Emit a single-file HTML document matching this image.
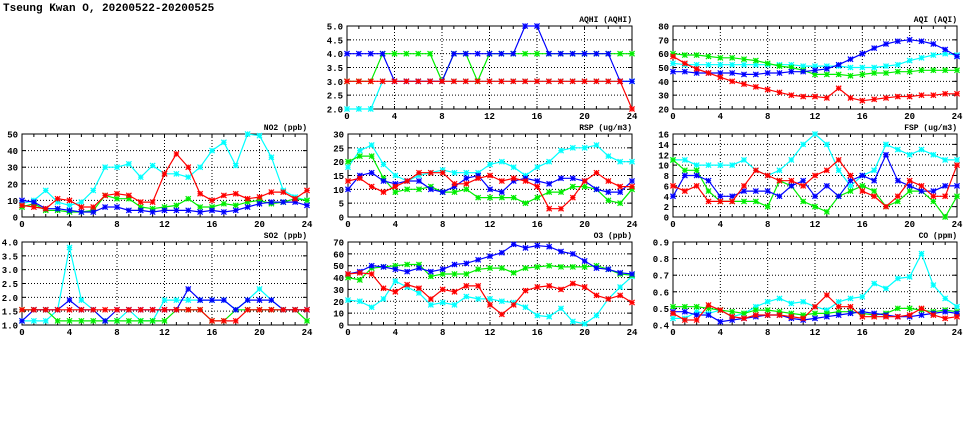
<!DOCTYPE html>
<html><head><meta charset="utf-8"><style>
html,body{margin:0;padding:0;background:#fff;}
svg{display:block;}
text{font-family:"Liberation Mono",monospace;font-weight:bold;fill:#000;}
</style></head><body>
<svg id="chart" width="975" height="447" viewBox="0 0 975 447" xmlns="http://www.w3.org/2000/svg">
<text x="3" y="11" font-size="11">Tseung Kwan O, 20200522-20200525</text>
</svg>
<script>
const hours = [0,1,2,3,4,5,6,7,8,9,10,11,12,13,14,15,16,17,18,19,20,21,22,23,24];
const xTicks = [0,4,8,12,16,20,24];
const seriesColors = ["#00ffff","#00ee00","#0000ff","#ff0000"];

const aqhiCyan  = [2,2,2,3,3,3,3,3,3,3,3,3,3,3,3,3,3,3,3,3,3,3,3,3,3];
const aqhiGreen = [3,3,3,4,4,4,4,4,3,4,4,3,4,4,4,4,4,4,4,4,4,4,4,4,4];
const aqhiBlue  = [4,4,4,4,3,3,3,3,3,4,4,4,4,4,4,5,5,4,4,4,4,4,4,3,3];
const aqhiRed   = [3,3,3,3,3,3,3,3,3,3,3,3,3,3,3,3,3,3,3,3,3,3,3,3,2];

const aqiCyan  = [53,52,52,52,52,52,52,52,52,52,52,51,51,51,51,50,50,50,51,52,55,57,59,60,59];
const aqiGreen = [60,59,59,58,57,57,56,55,53,51,50,48,45,45,45,44,45,46,46,47,47,48,48,48,48];
const aqiBlue  = [47,47,46,46,46,46,45,45,46,46,47,47,48,49,52,56,60,64,67,69,70,69,67,63,58];
const aqiRed   = [58,53,49,46,43,40,38,36,34,32,30,29,29,28,35,28,26,27,28,29,29,30,30,31,31];

const no2Cyan  = [8,10,16,9,7,9,16,30,30,32,24,31,26,26,24,30,40,45,31,50,49,36,16,12,10];
const no2Green = [6,8,4,4,3,3,4,13,11,11,6,5,6,7,11,6,6,8,7,9,10,8,9,11,10];
const no2Blue  = [10,9,5,5,4,3,3,6,6,4,4,3,4,4,4,3,4,3,4,6,8,9,9,9,7];
const no2Red   = [7,6,5,11,10,6,6,13,14,13,9,9,26,38,30,14,10,13,14,11,12,15,15,11,16];

const rspCyan  = [18,24,26,19,15,13,15,16,17,16,16,16,19,20,18,15,18,20,24,25,25,26,22,20,20];
const rspGreen = [20,22,22,14,9,10,10,11,9,9,10,7,7,7,7,5,7,9,9,11,11,10,6,5,10];
const rspBlue  = [10,15,16,13,12,13,13,10,9,11,14,15,10,9,13,14,13,12,14,14,13,10,9,9,13];
const rspRed   = [13,14,11,9,11,13,16,16,16,12,12,14,15,13,14,13,11,3,3,7,13,16,13,11,11];

const fspCyan  = [11,11,10,10,10,10,11,9,8,9,11,14,16,14,9,6,8,9,14,13,12,13,12,11,11];
const fspGreen = [11,9,9,5,3,3,3,3,2,7,6,3,2,1,4,5,6,5,2,3,5,5,3,0,4];
const fspBlue  = [4,8,8,7,4,4,5,5,5,4,6,7,4,6,4,7,8,7,12,7,6,5,5,6,6];
const fspRed   = [6,5,6,3,3,3,6,9,8,7,7,6,8,9,11,8,5,4,2,4,7,6,4,4,10];

const so2Cyan  = [1.15,1.15,1.15,1.55,3.8,1.9,1.55,1.15,1.15,1.55,1.15,1.15,1.9,1.9,1.9,1.9,1.9,1.9,1.55,1.9,2.3,1.9,1.55,1.55,1.55];
const so2Green = [1.55,1.55,1.55,1.15,1.15,1.15,1.15,1.15,1.15,1.15,1.15,1.15,1.15,1.55,1.55,1.55,1.15,1.15,1.55,1.55,1.55,1.55,1.55,1.55,1.15];
const so2Blue  = [1.15,1.55,1.55,1.55,1.9,1.55,1.55,1.15,1.55,1.55,1.55,1.55,1.55,1.55,2.3,1.9,1.9,1.9,1.55,1.9,1.9,1.9,1.55,1.55,1.55];
const so2Red   = [1.55,1.55,1.55,1.55,1.55,1.55,1.55,1.55,1.55,1.55,1.55,1.55,1.55,1.55,1.55,1.55,1.15,1.15,1.15,1.55,1.55,1.55,1.55,1.55,1.55];

const o3Cyan  = [21,20,15,22,37,32,27,17,19,17,24,22,22,20,19,15,8,7,14,3,1,8,22,32,41];
const o3Green = [40,38,48,49,50,51,51,41,43,43,43,47,48,48,44,48,49,50,49,49,49,50,47,43,42];
const o3Blue  = [43,45,50,49,47,45,48,45,47,51,52,55,58,61,68,65,67,66,62,60,54,48,47,44,43];
const o3Red   = [43,44,43,31,28,34,31,22,30,28,33,33,17,9,17,29,32,33,30,35,32,25,22,25,19];

const coCyan  = [0.44,0.44,0.48,0.47,0.49,0.45,0.47,0.51,0.54,0.56,0.53,0.54,0.51,0.49,0.54,0.56,0.57,0.65,0.62,0.68,0.69,0.83,0.64,0.56,0.51];
const coGreen = [0.51,0.51,0.51,0.50,0.49,0.48,0.47,0.49,0.49,0.48,0.47,0.46,0.47,0.47,0.48,0.48,0.47,0.46,0.47,0.50,0.50,0.49,0.48,0.49,0.48];
const coBlue  = [0.48,0.48,0.46,0.46,0.42,0.43,0.44,0.45,0.46,0.46,0.44,0.43,0.44,0.45,0.46,0.47,0.48,0.47,0.46,0.45,0.45,0.46,0.47,0.48,0.47];
const coRed   = [0.47,0.43,0.43,0.52,0.49,0.45,0.44,0.46,0.46,0.46,0.45,0.44,0.51,0.58,0.51,0.51,0.45,0.45,0.45,0.45,0.46,0.50,0.46,0.44,0.45];

const aqhiTicks = ["2.0","2.5","3.0","3.5","4.0","4.5","5.0"];
const aqiTicks = ["20","30","40","50","60","70","80"];
const no2Ticks = ["0","10","20","30","40","50"];
const rspTicks = ["0","5","10","15","20","25","30"];
const fspTicks = ["0","2","4","6","8","10","12","14","16"];
const so2Ticks = ["1.0","1.5","2.0","2.5","3.0","3.5","4.0"];
const o3Ticks = ["0","10","20","30","40","50","60","70"];
const coTicks = ["0.4","0.5","0.6","0.7","0.8","0.9"];

const panels = [
 {name:"aqhi",title:"AQHI (AQHI)",L:347,R:632,T:26,B:109,ticks:aqhiTicks,series:[aqhiCyan,aqhiGreen,aqhiBlue,aqhiRed]},
 {name:"aqi",title:"AQI (AQI)",L:673,R:957,T:26,B:109,ticks:aqiTicks,series:[aqiCyan,aqiGreen,aqiBlue,aqiRed]},
 {name:"no2",title:"NO2 (ppb)",L:22,R:307,T:134,B:217,ticks:no2Ticks,series:[no2Cyan,no2Green,no2Blue,no2Red]},
 {name:"rsp",title:"RSP (ug/m3)",L:348,R:632,T:134,B:217,ticks:rspTicks,series:[rspCyan,rspGreen,rspBlue,rspRed]},
 {name:"fsp",title:"FSP (ug/m3)",L:673,R:957,T:134,B:217,ticks:fspTicks,series:[fspCyan,fspGreen,fspBlue,fspRed]},
 {name:"so2",title:"SO2 (ppb)",L:22,R:307,T:242,B:325,ticks:so2Ticks,series:[so2Cyan,so2Green,so2Blue,so2Red]},
 {name:"o3",title:"O3 (ppb)",L:348,R:632,T:242,B:325,ticks:o3Ticks,series:[o3Cyan,o3Green,o3Blue,o3Red]},
 {name:"co",title:"CO (ppm)",L:673,R:957,T:242,B:325,ticks:coTicks,series:[coCyan,coGreen,coBlue,coRed]}
];
const seriesNames = ["cyan","green","blue","red"];

const svg = document.getElementById("chart");
const NS = "http://www.w3.org/2000/svg";
function mk(tag, attrs, parent){
  const e = document.createElementNS(NS, tag);
  for (const k in attrs) e.setAttribute(k, attrs[k]);
  parent.appendChild(e);
  return e;
}

panels.forEach(p => {
  const g = mk("g", {}, svg);
  
  
  const yMin = parseFloat(p.ticks[0]), yMax = parseFloat(p.ticks[p.ticks.length-1]);
  const xS = v => p.L + (v - 0) / 24 * (p.R - p.L);
  const yS = v => p.B - (v - yMin) / (yMax - yMin) * (p.B - p.T);

  // grid
  p.ticks.forEach((t, i) => {
    const y = yS(parseFloat(t));
    if (i > 0 && i < p.ticks.length - 1) {
      const gl = mk("line", {x1:p.L, x2:p.R, y1:y, y2:y, stroke:"#000", "stroke-width":1, "stroke-dasharray":"1,2"}, g);
      
      
    }
    mk("line", {x1:p.L, x2:p.L+4, y1:y, y2:y, stroke:"#000"}, g);
    mk("line", {x1:p.R-4, x2:p.R, y1:y, y2:y, stroke:"#000"}, g);
    const tl = mk("text", {x:p.L-4, y:y+3.5, "font-size":9, "text-anchor":"end"}, g);
    tl.textContent = t;
    
    
  });
  xTicks.forEach((t, i) => {
    const x = xS(t);
    if (i > 0 && i < xTicks.length - 1) {
      const gl = mk("line", {x1:x, x2:x, y1:p.T, y2:p.B, stroke:"#000", "stroke-width":1, "stroke-dasharray":"1,2"}, g);
      
      
    }
    const tl = mk("text", {x:x, y:p.B+10, "font-size":9, "text-anchor":"middle"}, g);
    tl.textContent = t;
    
    
  });
  hours.forEach(h => {
    const x = xS(h);
    mk("line", {x1:x, x2:x, y1:p.B, y2:p.B-3, stroke:"#000"}, g);
    mk("line", {x1:x, x2:x, y1:p.T, y2:p.T+3, stroke:"#000"}, g);
  });
  const frame = mk("rect", {x:p.L, y:p.T, width:p.R-p.L, height:p.B-p.T, fill:"none", stroke:"#000", "stroke-width":1}, g);
  
  
  const title = mk("text", {x:p.R, y:p.T-4, "font-size":8, "text-anchor":"end"}, g);
  title.textContent = p.title;
  
  

  // series
  p.series.forEach((vals, si) => {
    const col = seriesColors[si];
    const sg = mk("g", {}, g);
    
    
    const pts = vals.map((v, i) => xS(hours[i]).toFixed(1) + "," + yS(v).toFixed(1)).join(" ");
    const pl = mk("polyline", {points:pts, fill:"none", stroke:col, "stroke-width":1.2}, sg);
    
    
    vals.forEach((v, i) => {
      const x = xS(hours[i]), y = yS(v), s = 2.6;
      const m = mk("path", {d:`M${x-s},${y-s}L${x+s},${y+s}M${x-s},${y+s}L${x+s},${y-s}M${x-s},${y}L${x+s},${y}M${x},${y-s}L${x},${y+s}`, stroke:col, "stroke-width":1.2, fill:"none"}, sg);
      
      
    });
  });
});
</script>
</body></html>
